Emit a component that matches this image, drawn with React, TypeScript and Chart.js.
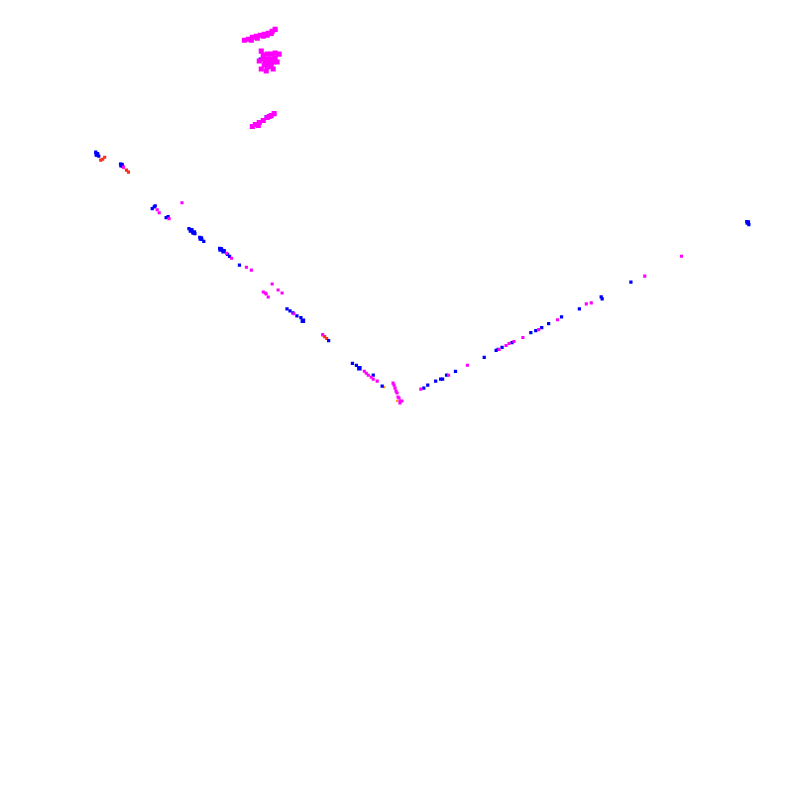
import React, { useEffect, useRef } from "react";
import { Chart, registerables } from "chart.js";

Chart.register(...registerables);

// Scene coordinates of the projected point cloud (x to the right, y downward)
const blueX = [93, 95, 96, 94, 118, 120, 150, 152, 153, 164, 166, 187, 189, 191, 193, 190, 198, 200, 202, 218, 220, 222, 226, 228, 238, 286, 289, 292, 296, 300, 302, 328, 352, 356, 359, 373, 382, 424, 428, 436, 441, 443, 447, 456, 485, 497, 499, 503, 513, 532, 537, 543, 550, 563, 581, 603, 604, 633, 750, 752, 259, 268, 265];
const blueY = [150, 152, 154, 153, 162, 164, 207, 205, 204, 216, 215, 227, 229, 231, 232, 228, 236, 238, 240, 247, 248, 250, 253, 255, 264, 308, 310, 312, 315, 317, 320, 340, 363, 365, 368, 375, 386, 388, 385, 381, 379, 379, 375, 371, 357, 350, 349, 347, 342, 332, 330, 327, 323, 316, 308, 296, 298, 281, 220, 223, 56, 64, 114];

const blueClusterX = [94, 119, 189, 192, 199, 219, 222, 302, 359, 751];
const blueClusterY = [152, 163, 229, 231, 237, 248, 250, 320, 368, 221];

const magentaX = [180, 155, 157, 167, 225, 230, 245, 250, 271, 262, 264, 265, 267, 277, 281, 293, 322, 121, 364, 366, 368, 371, 373, 377, 393, 394, 395, 396, 397, 398, 399, 400, 402, 400, 421, 449, 468, 500, 507, 510, 515, 524, 540, 559, 588, 593, 647, 684];
const magentaY = [201, 208, 211, 217, 252, 257, 266, 269, 283, 291, 292, 293, 296, 289, 292, 313, 334, 165, 371, 373, 375, 377, 379, 381, 383, 385, 388, 391, 393, 397, 398, 401, 401, 403, 389, 375, 365, 349, 345, 343, 341, 337, 329, 319, 303, 302, 275, 255];

const blobX = [243, 247, 251, 255, 259, 263, 267, 271, 274, 262, 266, 256, 250, 270, 262, 266, 270, 274, 278, 262, 266, 270, 274, 264, 268, 272, 266, 270, 260, 251, 254, 258, 262, 266, 270, 273, 257, 268, 260, 276, 263, 272, 258, 265];
const blobY = [37, 36, 34, 33, 32, 31, 30, 28, 26, 33, 32, 35, 37, 30, 52, 51, 51, 50, 51, 56, 56, 56, 55, 60, 60, 59, 64, 63, 66, 124, 122, 120, 118, 115, 113, 111, 123, 114, 48, 59, 62, 66, 58, 68];

const redX = [98, 100, 102, 124, 126, 324, 326];
const redY = [158, 157, 155, 168, 170, 336, 338];

const orangeX = [121, 384, 397, 322];
const orangeY = [166, 387, 401, 335];

const pts = (xs: number[], ys: number[]) => xs.map((x, i) => ({ x, y: ys[i] }));

export default function App() {
  const ref = useRef<HTMLCanvasElement | null>(null);
  useEffect(() => {
    if (!ref.current) return;
    const chart = new Chart(ref.current, {
      type: "scatter",
      data: {
        datasets: [
          { label: "blob", data: pts(blobX, blobY), backgroundColor: "#ff00ff", borderWidth: 0, pointStyle: "rect", pointRadius: 3.6 },
          { label: "magenta", data: pts(magentaX, magentaY), backgroundColor: "#ff00ff", borderWidth: 0, pointStyle: "rect", pointRadius: 2.2 },
          { label: "blueCluster", data: pts(blueClusterX, blueClusterY), backgroundColor: "#0000ff", borderWidth: 0, pointStyle: "rect", pointRadius: 3.2 },
          { label: "blue", data: pts(blueX, blueY), backgroundColor: "#0000ff", borderWidth: 0, pointStyle: "rect", pointRadius: 2.3 },
          { label: "red", data: pts(redX, redY), backgroundColor: "#ff2a1a", borderWidth: 0, pointStyle: "rect", pointRadius: 2.2 },
          { label: "orange", data: pts(orangeX, orangeY), backgroundColor: "#ff9a00", borderWidth: 0, pointStyle: "rect", pointRadius: 1.6 },
        ],
      },
      options: {
        animation: false,
        responsive: false,
        devicePixelRatio: 1,
        layout: { padding: 0 },
        plugins: { legend: { display: false }, tooltip: { enabled: false } },
        elements: { point: { hoverRadius: 0 } },
        scales: {
          x: { type: "linear", min: 0, max: 800, display: false },
          y: { type: "linear", min: 0, max: 800, reverse: true, display: false },
        },
      },
    });
    return () => chart.destroy();
  }, []);
  return (
    <div style={{ position: "absolute", left: 0, top: 0, width: 800, height: 800, background: "#fff" }}>
      <canvas ref={ref} width={800} height={800} />
    </div>
  );
}
